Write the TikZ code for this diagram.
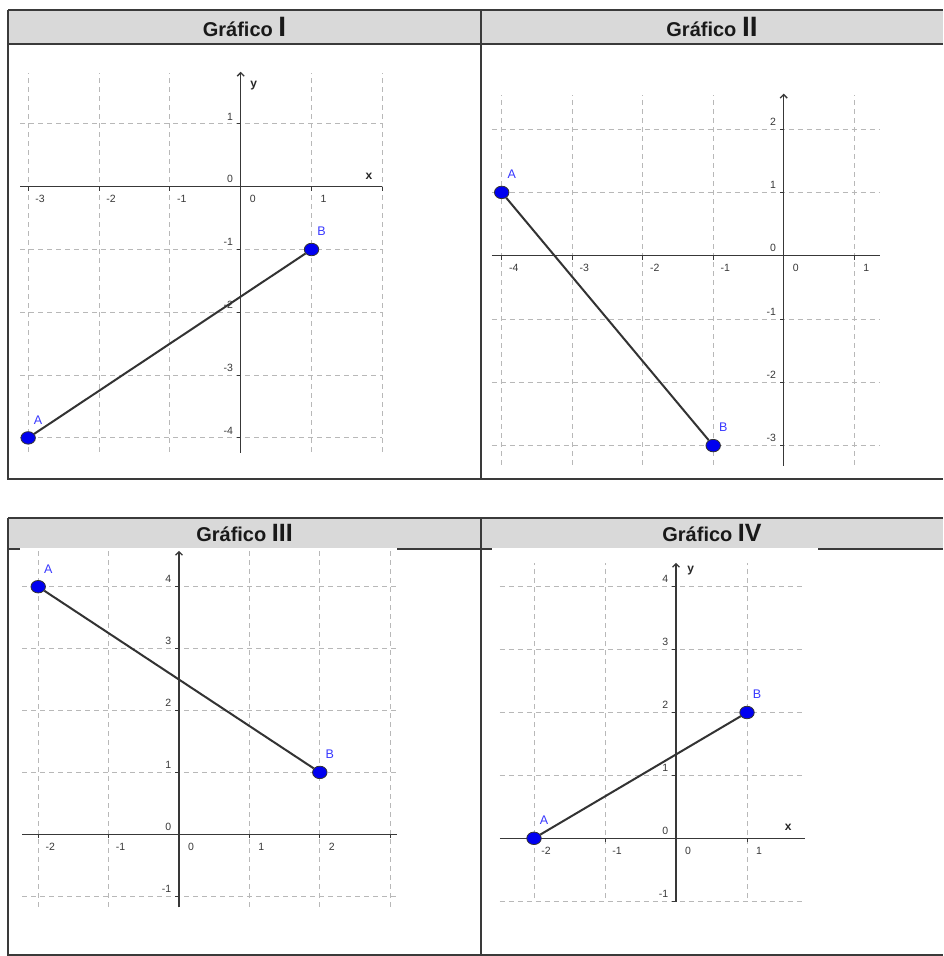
\documentclass[tikz,border=0pt]{standalone}
\usepackage{fontspec}
\setmainfont{Liberation Sans}
\usetikzlibrary{arrows.meta,shapes.geometric}
\definecolor{hdr}{HTML}{D9D9D9}
\definecolor{framec}{HTML}{3A3A3A}
\definecolor{gridc}{HTML}{B8B8B8}
\definecolor{axisc}{HTML}{383838}
\definecolor{ptblue}{HTML}{0000F0}
\definecolor{lblblue}{HTML}{3838FF}
\begin{document}
\begin{tikzpicture}[x=1pt,y=-1pt,
  frameline/.style={draw=framec,line width=1.5pt},
  gridline/.style={draw=gridc,line width=0.9pt,dash pattern=on 5pt off 4pt},
  axisline/.style={draw=axisc,line width=1.3pt},
  tickline/.style={draw=axisc,line width=1pt},
  ticklbl/.style={font=\fontsize{10.5}{10.5}\selectfont,text=axisc,inner sep=0pt},
  ptdot/.style={ellipse,draw=black!80,line width=0.8pt,fill=ptblue,minimum width=14.5pt,minimum height=12.5pt,inner sep=0pt},
  ptlbl/.style={font=\fontsize{12.5}{12.5}\selectfont,text=lblblue,inner sep=0pt},
  seg/.style={draw=black!80,line width=2pt},
  axlbl/.style={font=\bfseries\fontsize{12}{12}\selectfont,text=black!85,inner sep=0pt},
  hdrtxt/.style={font=\bfseries\fontsize{20}{20}\selectfont,text=black!90,inner sep=0pt,anchor=base},
  axarrow/.style={-{Straight Barb[length=3.5pt,width=7pt]}}]
\useasboundingbox (0,0) rectangle (943,956);
\fill[white] (0,0) rectangle (943,956);

% ---------- top table ----------
\fill[hdr] (8,10) rectangle (943,44);
\draw[frameline] (8,10) -- (943,10);
\draw[frameline] (8,44) -- (943,44);
\draw[frameline] (8,10) -- (8,479) -- (943,479);
\draw[frameline] (481,10) -- (481,479);
\node[hdrtxt] (h1) at (244.5,36) {Gráfico {\fontsize{28}{28}\selectfont I}};
\node[hdrtxt] (h2) at (712,36) {Gráfico {\fontsize{28}{28}\selectfont II}};

% ---------- bottom table ----------
\fill[hdr] (8,518) rectangle (943,549);
\draw[frameline] (8,518) -- (943,518);
\draw[frameline] (8,549) -- (943,549);
\draw[frameline] (8,518) -- (8,955) -- (943,955);
\draw[frameline] (481,518) -- (481,955);
\fill[white] (20,547.9) rectangle (397,552);
\fill[white] (492,547.9) rectangle (818,552);
\node[hdrtxt] (h3) at (244.5,541) {Gráfico {\fontsize{25}{25}\selectfont III}};
\node[hdrtxt] (h4) at (712,541) {Gráfico {\fontsize{25}{25}\selectfont IV}};

% ---------- Graph I ----------
\begin{scope}[shift={(240.7pt,-186.7pt)},x=70.85pt,y=62.8pt]
  \foreach \i in {-3,-2,-1,1,2} \draw[gridline] (\i,-4.22) -- (\i,1.815);
  \foreach \j in {1,-1,-2,-3,-4} \draw[gridline] (-3.115,\j) -- (2.0,\j);
  \draw[axisline] (-3.115,0) -- (2.0,0);
  \draw[axisline,axarrow] (0,-4.24) -- (0,1.83);
  \foreach \i in {-3,-2,-1,1,2} \draw[tickline] (\i,0) -- ++(0pt,-4pt);
  \foreach \j in {1,-1,-2,-3,-4} \draw[tickline] (0,\j) -- ++(-4pt,0pt);
  \foreach \i in {-3,-2,-1,0,1} \node[ticklbl] (g1x\i) at ([shift={(12pt,-12.6pt)}]\i,0) {\i};
  \foreach \j in {1,0,-1,-2,-3,-4} \node[ticklbl,anchor=east] (g1y\j) at ([shift={(-7.5pt,7.5pt)}]0,\j) {\j};
  \node[axlbl] (X1) at ([yshift=10pt]1.81,0) {x};
  \node[axlbl] (Y1) at ([xshift=13pt]0,1.61) {y};
  \node[ptdot] (A1) at (-3,-4) {};
  \node[ptdot] (B1) at (1,-1) {};
  \draw[seg] (A1) -- (B1);
  \node[ptlbl] (LA1) at ([shift={(10pt,18pt)}]A1.center) {A};
  \node[ptlbl] (LB1) at ([shift={(10pt,18pt)}]B1.center) {B};
\end{scope}

% ---------- Graph II ----------
\begin{scope}[shift={(783.7pt,-255.7pt)},x=70.5pt,y=63.3pt]
  \foreach \i in {-4,-3,-2,-1,1} \draw[gridline] (\i,-3.3) -- (\i,2.54);
  \foreach \j in {2,1,-1,-2,-3} \draw[gridline] (-4.14,\j) -- (1.37,\j);
  \draw[axisline] (-4.14,0) -- (1.37,0);
  \draw[axisline,axarrow] (0,-3.32) -- (0,2.56);
  \foreach \i in {-4,-3,-2,-1,1} \draw[tickline] (\i,0) -- ++(0pt,-4pt);
  \foreach \j in {2,1,-1,-2,-3} \draw[tickline] (0,\j) -- ++(-4pt,0pt);
  \foreach \i in {-4,-3,-2,-1,0,1} \node[ticklbl] (g2x\i) at ([shift={(12pt,-12.6pt)}]\i,0) {\i};
  \foreach \j in {2,1,0,-1,-2,-3} \node[ticklbl,anchor=east] (g2y\j) at ([shift={(-7.5pt,7.5pt)}]0,\j) {\j};
  \node[ptdot] (A2) at (-4,1) {};
  \node[ptdot] (B2) at (-1,-3) {};
  \draw[seg] (A2) -- (B2);
  \node[ptlbl] (LA2) at ([shift={(10pt,18pt)}]A2.center) {A};
  \node[ptlbl] (LB2) at ([shift={(10pt,18pt)}]B2.center) {B};
\end{scope}

% ---------- Graph III ----------
\begin{scope}[shift={(179pt,-834.3pt)},x=70.4pt,y=61.9pt]
  \foreach \i in {-2,-1,1,2,3} \draw[gridline] (\i,-1.17) -- (\i,4.59);
  \foreach \j in {4,3,2,1,-1} \draw[gridline] (-2.23,\j) -- (3.09,\j);
  \draw[axisline] (-2.23,0) -- (3.09,0);
  \draw[axisline,axarrow] (0,-1.18) -- (0,4.58);
  \foreach \i in {-2,-1,1,2,3} \draw[tickline] (\i,0) -- ++(0pt,-4pt);
  \foreach \j in {4,3,2,1,-1} \draw[tickline] (0,\j) -- ++(-4pt,0pt);
  \foreach \i in {-2,-1,0,1,2} \node[ticklbl] (g3x\i) at ([shift={(12pt,-12.6pt)}]\i,0) {\i};
  \foreach \j in {4,3,2,1,0,-1} \node[ticklbl,anchor=east] (g3y\j) at ([shift={(-7.5pt,7.5pt)}]0,\j) {\j};
  \node[ptdot] (A3) at (-2,4) {};
  \node[ptdot] (B3) at (2,1) {};
  \draw[seg] (A3) -- (B3);
  \node[ptlbl] (LA3) at ([shift={(10pt,18pt)}]A3.center) {A};
  \node[ptlbl] (LB3) at ([shift={(10pt,18pt)}]B3.center) {B};
\end{scope}

% ---------- Graph IV ----------
\begin{scope}[shift={(676pt,-838.3pt)},x=71pt,y=62.9pt]
  \foreach \i in {-2,-1,1} \draw[gridline] (\i,-0.95) -- (\i,4.37);
  \foreach \j in {4,3,2,1,-1} \draw[gridline] (-2.48,\j) -- (1.77,\j);
  \draw[axisline] (-2.48,0) -- (1.82,0);
  \draw[axisline,axarrow] (0,-1.01) -- (0,4.38);
  \foreach \i in {-2,-1,1} \draw[tickline] (\i,0) -- ++(0pt,-4pt);
  \foreach \j in {4,3,2,1,-1} \draw[tickline] (0,\j) -- ++(-4pt,0pt);
  \foreach \i in {-2,-1,0,1} \node[ticklbl] (g4x\i) at ([shift={(12pt,-12.6pt)}]\i,0) {\i};
  \foreach \j in {4,3,2,1,0,-1} \node[ticklbl,anchor=east] (g4y\j) at ([shift={(-7.5pt,7.5pt)}]0,\j) {\j};
  \node[axlbl] (X4) at ([yshift=10.6pt]1.58,0) {x};
  \node[axlbl] (Y4) at ([xshift=14.7pt]0,4.25) {y};
  \node[ptdot] (A4) at (-2,0) {};
  \node[ptdot] (B4) at (1,2) {};
  \draw[seg] (A4) -- (B4);
  \node[ptlbl] (LA4) at ([shift={(10pt,18pt)}]A4.center) {A};
  \node[ptlbl] (LB4) at ([shift={(10pt,18pt)}]B4.center) {B};
\end{scope}
\end{tikzpicture}
\end{document}
